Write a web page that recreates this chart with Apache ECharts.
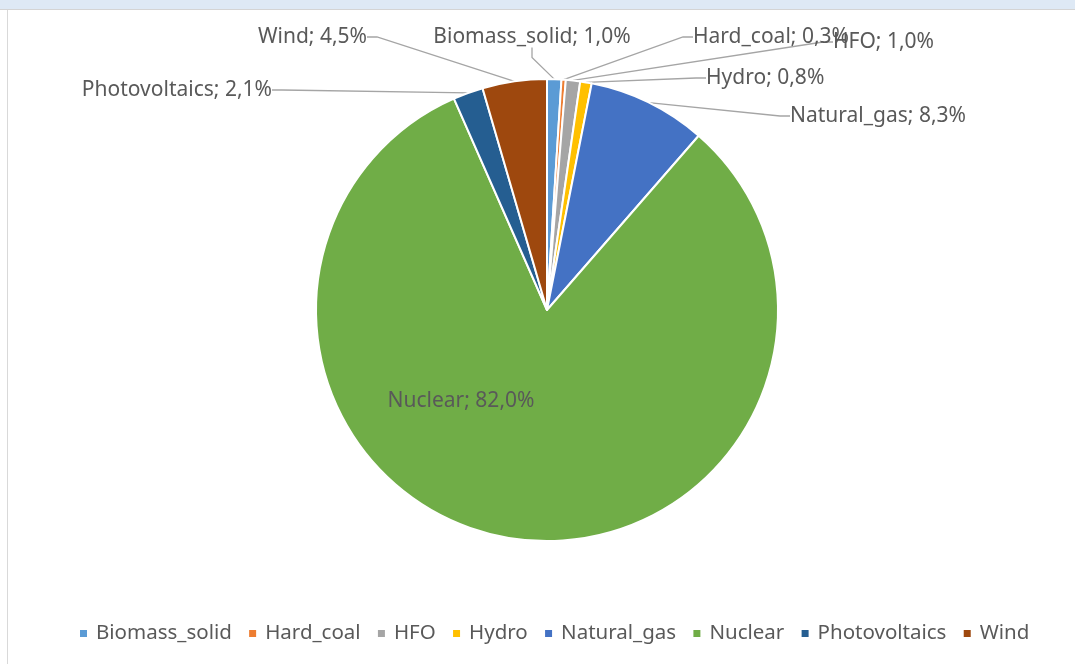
<!DOCTYPE html>
<html>
<head>
<meta charset="utf-8">
<script src="https://cdn.jsdelivr.net/npm/echarts@6/dist/echarts.min.js"></script>
<style>
html,body{margin:0;padding:0;background:#fff;}
#frame{position:absolute;left:0;top:0;width:1075px;height:664px;background:#fff;}
#topbar{position:absolute;left:0;top:0;width:1075px;height:9px;background:#dee9f5;border-bottom:1px solid #d4d4d4;}
#leftline{position:absolute;left:7px;top:10px;width:1px;height:654px;background:#d9d9d9;}
#chart{position:absolute;left:0;top:0;width:1075px;height:664px;}
</style>
</head>
<body>
<div id="frame"></div>
<div id="topbar"></div>
<div id="leftline"></div>
<div id="chart"></div>
<script>
const categories = ['Biomass_solid','Hard_coal','HFO','Hydro','Natural_gas','Nuclear','Photovoltaics','Wind'];
const values = [1.0, 0.3, 1.0, 0.8, 8.3, 82.0, 2.1, 4.5];
const colors = ['#5b9bd5','#ed7d31','#a5a5a5','#ffc000','#4472c4','#70ad47','#255e91','#9e480e'];

// label placement (layout only)
const labelLayouts = {
  'Biomass_solid': {x: 532, y: 37, align: 'center'},
  'Hard_coal': {x: 693, y: 37, align: 'left'},
  'HFO': {x: 833, y: 42, align: 'left'},
  'Hydro': {x: 706, y: 78, align: 'left'},
  'Natural_gas': {x: 790, y: 116, align: 'left'},
  'Nuclear': {x: 461, y: 401, align: 'center'},
  'Photovoltaics': {x: 272, y: 90, align: 'right'},
  'Wind': {x: 367, y: 37, align: 'right'}
};

const fmt = v => v.toFixed(1).replace('.', ',') + '%';
const FONT = 'Noto Sans';

const chart = echarts.init(document.getElementById('chart'), null, {renderer: 'canvas'});
chart.setOption({
  animation: false,
  color: colors,
  legend: {
    bottom: 15,
    left: 73,
    icon: 'rect',
    itemWidth: 9,
    itemHeight: 9,
    itemGap: 15.3,
    textStyle: {fontFamily: FONT, fontSize: 20.5, color: '#595959', padding: [0,0,0,3]},
    data: categories
  },
  series: [{
    type: 'pie',
    center: [547, 310],
    radius: [0, 231],
    startAngle: 90,
    clockwise: true,
    avoidLabelOverlap: false,
    itemStyle: {borderColor: '#fff', borderWidth: 2},
    label: {
      show: true,
      position: 'outside',
      fontFamily: FONT,
      fontSize: 21,
      color: '#595959',
      formatter: p => p.name + '; ' + fmt(p.value)
    },
    labelLine: {show: true, length: 20, length2: 10, lineStyle: {color: '#a5a5a5', width: 1.3}},
    labelLayout: function (params) {
      const name = categories[params.dataIndex];
      const L = labelLayouts[name];
      return {x: L.x, y: L.y, align: L.align, verticalAlign: 'middle'};
    },
    data: categories.map((c, i) => {
      const d = {name: c, value: values[i]};
      if (c === 'Nuclear') {
        d.label = {position: 'inside'};
        d.labelLine = {show: false};
      }
      return d;
    })
  }]
});
</script>
</body>
</html>
